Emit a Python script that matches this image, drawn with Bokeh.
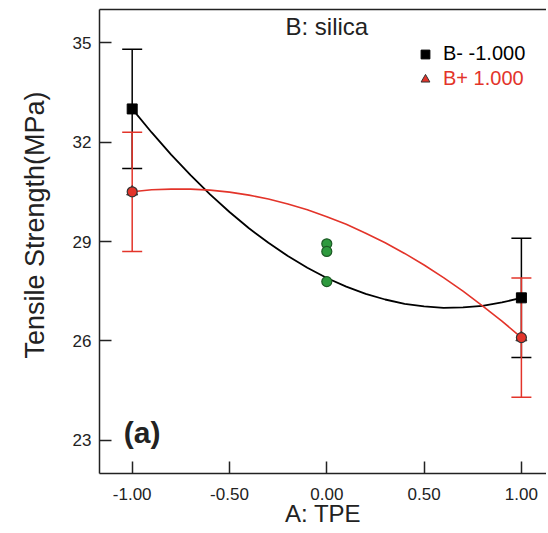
from bokeh.plotting import figure
from bokeh.models import (Range1d, FixedTicker, LinearAxis, Whisker, TeeHead, Title,
                          ColumnDataSource, Label, Legend, LegendItem, NumeralTickFormatter)
from bokeh.embed import file_html
from bokeh.resources import INLINE

# ---- data ----
levels = [-1.0, 1.0]
b_minus = [33.0, 27.3]
b_minus_lo = [31.2, 25.5]
b_minus_hi = [34.8, 29.1]
b_plus = [30.5, 26.1]
b_plus_lo = [28.7, 24.3]
b_plus_hi = [32.3, 27.9]
center_x = [0.0, 0.0, 0.0]
center_y = [28.93, 28.70, 27.79]
curve_x = [-1.0, -0.9, -0.8, -0.7, -0.6, -0.5, -0.4, -0.3, -0.2, -0.1, 0.0,
           0.1, 0.2, 0.3, 0.4, 0.5, 0.6, 0.7, 0.8, 0.9, 1.0]
fit_minus = [33.00, 32.29, 31.62, 31.00, 30.42, 29.89, 29.40, 28.96, 28.56, 28.21, 27.90,
             27.64, 27.42, 27.25, 27.12, 27.04, 27.00, 27.01, 27.06, 27.16, 27.30]
fit_plus = [30.50, 30.56, 30.58, 30.58, 30.55, 30.49, 30.40, 30.28, 30.13, 29.96, 29.75,
            29.52, 29.25, 28.96, 28.64, 28.29, 27.91, 27.50, 27.06, 26.60, 26.10]
x_ticks = [-1.0, -0.5, 0.0, 0.5, 1.0]
y_ticks = [23, 26, 29, 32, 35]
label_minus = "B- -1.000"
label_plus = "B+ 1.000"

RED = "#e3342a"
DARK = "#222222"
FONT = "Liberation Sans"

p = figure(width=546, height=530, output_backend="svg", toolbar_location=None,
           x_range=Range1d(-1.168, 1.129), y_range=Range1d(22, 36),
           min_border_left=99, min_border_right=0, min_border_top=9, min_border_bottom=57,
           x_axis_label="A: TPE")
p.outline_line_color = None
p.xgrid.visible = False
p.ygrid.visible = False
p.background_fill_color = "white"

for ax in (p.xaxis[0], p.yaxis[0]):
    ax.axis_line_color = DARK
    ax.axis_line_width = 1.5
    ax.major_tick_line_color = DARK
    ax.major_tick_line_width = 1.5
    ax.major_tick_in = 12
    ax.major_tick_out = 0
    ax.minor_tick_line_color = None
    ax.major_label_text_font = FONT
    ax.major_label_text_font_size = "17px"
    ax.major_label_text_color = DARK
    ax.axis_label_text_font = FONT
    ax.axis_label_text_font_style = "normal"
    ax.axis_label_text_color = DARK

p.xaxis[0].ticker = FixedTicker(ticks=x_ticks)
p.xaxis[0].formatter = NumeralTickFormatter(format="0.00")
p.xaxis[0].major_label_standoff = 14
p.xaxis[0].axis_label_text_font_size = "24px"
p.xaxis[0].axis_label_standoff = -3
p.yaxis[0].ticker = FixedTicker(ticks=y_ticks)
p.yaxis[0].major_label_standoff = 8

top = LinearAxis(ticker=FixedTicker(ticks=[]), major_label_text_font_size="0px",
                 major_tick_in=0, major_tick_out=0, major_label_standoff=0,
                 axis_line_color=DARK, axis_line_width=1.5)
p.add_layout(top, "above")

# y axis title, shifted upward as in the original
p.add_layout(Title(text="Tensile Strength(MPa)", align="left", offset=115, standoff=36,
                   vertical_align="top",
                   text_font=FONT, text_font_size="27px", text_font_style="normal",
                   text_color=DARK), "left")

# fitted curves
p.line(curve_x, fit_minus, line_color="black", line_width=1.8)
p.line(curve_x, fit_plus, line_color=RED, line_width=1.6)

# error bars
src_m = ColumnDataSource(dict(x=levels, lo=b_minus_lo, hi=b_minus_hi))
src_p = ColumnDataSource(dict(x=levels, lo=b_plus_lo, hi=b_plus_hi))
wm = Whisker(base="x", lower="lo", upper="hi", source=src_m, line_color="black", line_width=1.5,
             upper_head=TeeHead(size=20, line_color="black", line_width=1.5),
             lower_head=TeeHead(size=20, line_color="black", line_width=1.5))
wp = Whisker(base="x", lower="lo", upper="hi", source=src_p, line_color=RED, line_width=1.5,
             upper_head=TeeHead(size=20, line_color=RED, line_width=1.5),
             lower_head=TeeHead(size=20, line_color=RED, line_width=1.5))
p.add_layout(wm)
p.add_layout(wp)

# points
r_sq = p.scatter(levels, b_minus, marker="square", size=10, fill_color="black", line_color="black")
r_tri = p.scatter(levels, b_plus, marker="triangle", size=11, fill_color=RED, line_color="#333333",
                  line_width=1)
p.scatter(levels, b_plus, marker="circle", size=10, fill_color=RED, line_color="#333333", line_width=1.2)
p.scatter(center_x, center_y, marker="circle", size=10, fill_color="#2e9a3e", line_color="#1d5a25",
          line_width=1.2)

# legends
def make_legend(label, renderer, color, loc):
    return Legend(items=[LegendItem(label=label, renderers=[renderer])], location=loc,
                  border_line_color=None, background_fill_alpha=0, padding=0, margin=0,
                  glyph_width=22, glyph_height=22, label_height=22, label_standoff=7,
                  label_text_font=FONT, label_text_font_size="20px", label_text_color=color)

p.add_layout(make_legend(label_minus, r_sq, "black", (315, 408)))
p.add_layout(make_legend(label_plus, r_tri, RED, (315, 383)))

p.add_layout(Label(x=0, y=35.49, text="B: silica", text_align="center", text_baseline="middle",
                   text_font=FONT, text_font_size="24px", text_color=DARK))
p.add_layout(Label(x=-1.043, y=23.24, text="(a)", text_align="left", text_baseline="middle",
                   text_font=FONT, text_font_size="30px", text_font_style="bold", text_color=DARK))

open("out.html", "w").write(file_html(p, INLINE))
